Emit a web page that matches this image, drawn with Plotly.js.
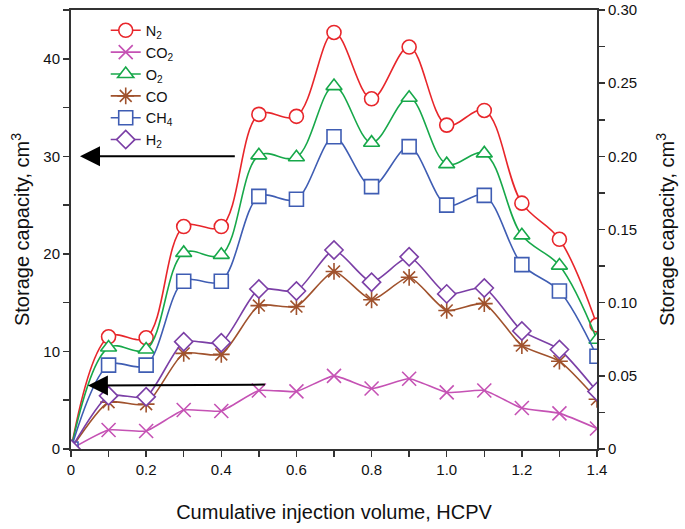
<!DOCTYPE html>
<html>
<head>
<meta charset="utf-8">
<script src="https://cdn.plot.ly/plotly-3.0.1.min.js"></script>
<style>html,body{margin:0;padding:0;background:#fff;}#chart{width:685px;height:529px;}</style>
</head>
<body>
<div id="chart"></div>
<script>
const injection = [0, 0.1, 0.2, 0.3, 0.4, 0.5, 0.6, 0.7, 0.8, 0.9, 1.0, 1.1, 1.2, 1.3, 1.4];
const N2  = [0, 11.5, 11.4, 22.8, 22.8, 34.3, 34.1, 42.7, 35.9, 41.2, 33.2, 34.7, 25.2, 21.5, 12.7];
const CO2 = [0, 1.95, 1.85, 4.0, 3.9, 6.0, 5.9, 7.5, 6.2, 7.2, 5.8, 6.0, 4.2, 3.65, 2.1];
const O2  = [0, 10.4, 10.2, 20.1, 19.9, 30.1, 29.9, 37.2, 31.4, 36.0, 29.2, 30.3, 21.9, 18.8, 11.2];
const CO  = [0, 4.8, 4.6, 9.8, 9.7, 14.7, 14.6, 18.2, 15.3, 17.6, 14.2, 14.9, 10.6, 9.0, 5.1];
const CH4 = [0, 8.6, 8.6, 17.2, 17.2, 25.9, 25.6, 32.0, 26.9, 31.0, 25.0, 26.0, 18.9, 16.2, 9.5];
const H2  = [0, 5.45, 5.35, 11.0, 10.9, 16.4, 16.2, 20.4, 17.1, 19.7, 15.9, 16.5, 12.1, 10.2, 5.9];

const xTickVals = [0, 0.2, 0.4, 0.6, 0.8, 1.0, 1.2, 1.4];
const xTickText = ["0", "0.2", "0.4", "0.6", "0.8", "1.0", "1.2", "1.4"];
const yTickVals = [0, 10, 20, 30, 40];
const y2TickVals = [0, 0.05, 0.10, 0.15, 0.20, 0.25, 0.30];
const y2TickText = ["0", "0.05", "0.10", "0.15", "0.20", "0.25", "0.30"];

function series(name, y, color, symbol, smooth, lineOnly) {
  return {
    x: injection, y: y, name: name, type: 'scatter', mode: 'lines+markers',
    line: {color: color, width: 1.6, shape: 'spline', smoothing: smooth},
    marker: {symbol: symbol, size: 14, color: lineOnly ? color : '#ffffff', line: {color: color, width: 1.6}},
    hoverinfo: 'skip'
  };
}

const traces = [
  series('N<sub>2</sub>', N2, '#e8262b', 'circle', 1.0, false),
  series('CO<sub>2</sub>', CO2, '#c552b4', 'x-thin-open', 0.5, true),
  series('O<sub>2</sub>', O2, '#17a84a', 'triangle-up', 1.0, false),
  series('CO', CO, '#a0522d', 'asterisk-open', 0.6, true),
  series('CH<sub>4</sub>', CH4, '#3f5db3', 'square', 0.9, false),
  series('H<sub>2</sub>', H2, '#7b3fa6', 'diamond', 0.6, false),
  {x: [0], y: [0], yaxis: 'y2', mode: 'markers', marker: {opacity: 0}, showlegend: false, hoverinfo: 'skip'}
];

const axisFont = {family: 'Arial, Liberation Sans, sans-serif', size: 15, color: '#111'};
const titleFont = {family: 'Arial, Liberation Sans, sans-serif', size: 20, color: '#111'};

const layout = {
  width: 685, height: 529,
  margin: {l: 71, r: 88, t: 10, b: 80},
  paper_bgcolor: '#fff', plot_bgcolor: '#fff',
  showlegend: true,
  legend: {x: 0.066, y: 0.99, xanchor: 'left', yanchor: 'top', bgcolor: 'rgba(0,0,0,0)',
           font: {family: 'Arial, Liberation Sans, sans-serif', size: 14.5, color: '#111'}, tracegroupgap: 0},
  xaxis: {
    range: [0, 1.4], tickvals: xTickVals, ticktext: xTickText,
    ticks: 'outside', ticklen: 6, tickwidth: 1.5, tickcolor: '#333',
    minor: {dtick: 0.1, tick0: 0, ticks: 'outside', ticklen: 6, tickwidth: 1.5, tickcolor: '#333'},
    showline: true, linecolor: '#333', linewidth: 2, mirror: true,
    showgrid: false, zeroline: false, tickfont: axisFont,
    title: {text: 'Cumulative injection volume, HCPV', font: titleFont, standoff: 28}
  },
  yaxis: {
    range: [0, 45], tickvals: yTickVals,
    ticks: 'outside', ticklen: 6, tickwidth: 1.5, tickcolor: '#333',
    minor: {dtick: 5, tick0: 0, ticks: 'outside', ticklen: 6, tickwidth: 1.5, tickcolor: '#333'},
    showline: true, linecolor: '#333', linewidth: 2,
    showgrid: false, zeroline: false, tickfont: axisFont,
    title: {text: 'Storage capacity, cm<sup>3</sup>', font: titleFont, standoff: 8}
  },
  yaxis2: {
    overlaying: 'y', side: 'right', range: [0, 0.30],
    tickvals: y2TickVals, ticktext: y2TickText,
    ticks: 'outside', ticklen: 6, tickwidth: 1.5, tickcolor: '#333',
    minor: {dtick: 0.025, tick0: 0, ticks: 'outside', ticklen: 6, tickwidth: 1.5, tickcolor: '#333'},
    showline: true, linecolor: '#333', linewidth: 2,
    showgrid: false, zeroline: false, tickfont: axisFont,
    title: {text: 'Storage capacity, cm<sup>3</sup>', font: titleFont, standoff: 24}
  },
  annotations: [
    {x: 0.024, y: 30, ax: 0.44, ay: 30, xref: 'x', yref: 'y', axref: 'x', ayref: 'y',
     showarrow: true, arrowhead: 2, arrowsize: 2, arrowwidth: 2, arrowcolor: '#000', text: ''},
    {x: 0.045, y: 6.5, ax: 0.52, ay: 6.6, xref: 'x', yref: 'y', axref: 'x', ayref: 'y',
     showarrow: true, arrowhead: 2, arrowsize: 2, arrowwidth: 2, arrowcolor: '#000', text: ''}
  ]
};

Plotly.newPlot('chart', traces, layout, {staticPlot: true, displayModeBar: false});
</script>
</body>
</html>
